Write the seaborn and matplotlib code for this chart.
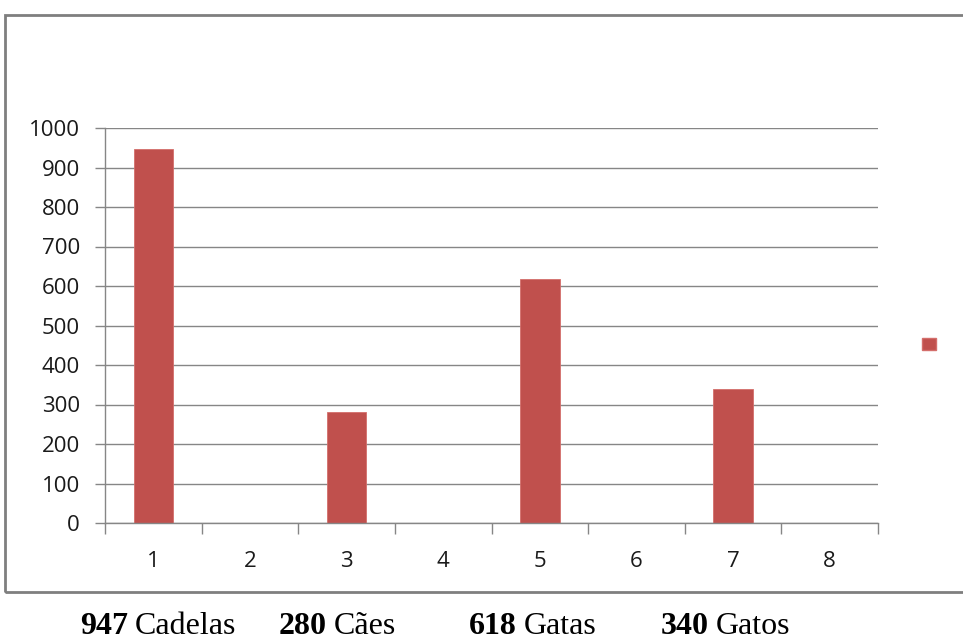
import matplotlib
matplotlib.use("Agg")
import matplotlib.pyplot as plt
import seaborn as sns
import pandas as pd
from matplotlib.patches import Rectangle, Patch
from matplotlib.ticker import FixedLocator

categories = ["1", "2", "3", "4", "5", "6", "7", "8"]
values = [947, 0, 280, 0, 618, 0, 340, 0]
summary_numbers = ["947", "280", "618", "340"]
summary_words = ["Cadelas", "Cães", "Gatas", "Gatos"]

sns.set_theme(style="white")
plt.rcParams["font.family"] = ["Open Sans", "DejaVu Sans"]

W, H = 963, 643
fig = plt.figure(figsize=(W / 100, H / 100), dpi=100)
ax = fig.add_axes([105 / W, 1 - 523 / H, (878 - 105) / W, (523 - 128) / H])

df = pd.DataFrame({"cat": categories, "val": values})
sns.barplot(data=df, x="cat", y="val", ax=ax, color="#C0504D", saturation=1,
            width=0.41, order=categories, edgecolor="#D46E6B", linewidth=0.6)

ax.set_xlim(-0.5, 7.5)
ax.set_ylim(0, 1000)
ax.set_yticks(range(0, 1001, 100))
ax.set_xlabel("")
ax.set_ylabel("")
grid_col = "#868686"
ax.grid(axis="y", color=grid_col, linewidth=1)
ax.set_axisbelow(True)
for s in ["top", "right"]:
    ax.spines[s].set_visible(False)
ax.spines["left"].set_color(grid_col)
ax.spines["bottom"].set_color(grid_col)
ax.spines["left"].set_linewidth(1)
ax.spines["bottom"].set_linewidth(1)

ax.tick_params(axis="y", length=7, width=1, color=grid_col, pad=11,
               labelsize=16, labelcolor="#1a1a1a", left=True)
ax.xaxis.set_minor_locator(FixedLocator([i - 0.5 for i in range(9)]))
ax.tick_params(axis="x", which="major", length=0, pad=20, labelsize=16,
               labelcolor="#1a1a1a")
ax.tick_params(axis="x", which="minor", length=8, width=1, color=grid_col,
               bottom=True)

# outer chart frame
fig.patches.append(Rectangle((5 / W, 1 - 592 / H), 1.0, (592 - 15) / H,
                             transform=fig.transFigure, fill=False,
                             edgecolor="#7F7F7F", linewidth=2))

# legend with empty label
leg = fig.legend(handles=[Patch(facecolor="#C0504D", edgecolor="#D46E6B")],
                 labels=[""], loc="center", bbox_to_anchor=(929 / W, 1 - 345 / H),
                 frameon=False, handlelength=1.0, handleheight=1.0,
                 handletextpad=0, borderpad=0, fontsize=10)

# bottom summary text
starts = [80, 279, 469, 661]
y_bottom = 1 - 641 / H
fig.canvas.draw()
renderer = fig.canvas.get_renderer()
for x0, num, word in zip(starts, summary_numbers, summary_words):
    t = fig.text(x0 / W, y_bottom, num, fontfamily="Liberation Serif",
                 fontweight="bold", fontsize=23, va="bottom", ha="left",
                 color="black")
    bb = t.get_window_extent(renderer=renderer)
    fig.text((bb.x1 + 7) / W, y_bottom, word, fontfamily="Liberation Serif",
             fontsize=23, va="bottom", ha="left", color="black")

fig.savefig("out.png", dpi=100)
